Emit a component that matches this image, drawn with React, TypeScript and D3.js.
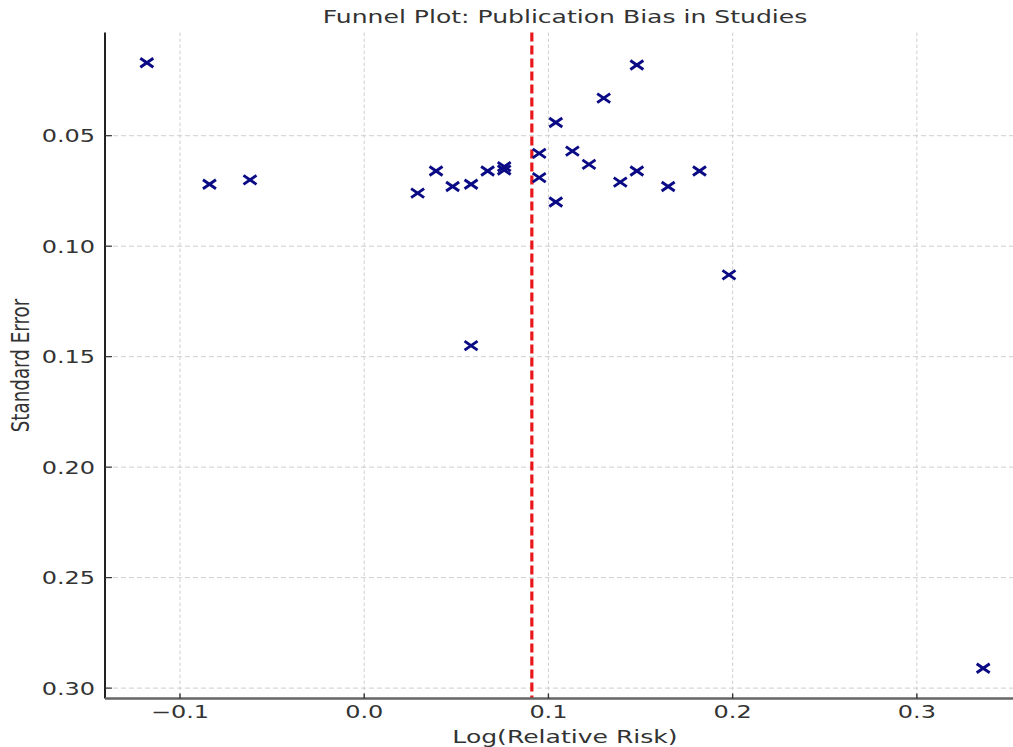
import React from "react";
import * as d3 from "d3";

// study estimates
const logRR = [
  -0.118, -0.084, -0.062, 0.029, 0.039, 0.048, 0.058, 0.067, 0.076, 0.076,
  0.095, 0.095, 0.104, 0.104, 0.113, 0.122, 0.13, 0.139, 0.148, 0.148, 0.165,
  0.182, 0.198, 0.058, 0.336,
];
const stdErr = [
  0.017, 0.072, 0.07, 0.076, 0.066, 0.073, 0.072, 0.066, 0.064, 0.0655, 0.058,
  0.069, 0.044, 0.08, 0.057, 0.063, 0.033, 0.071, 0.018, 0.066, 0.073, 0.066,
  0.113, 0.145, 0.291,
];
const pooledEffect = 0.091;
const xTicks = [-0.1, 0.0, 0.1, 0.2, 0.3];
const yTicks = [0.05, 0.1, 0.15, 0.2, 0.25, 0.3];

const W = 1013;
const H = 747;
const SX = 1.37; // the figure is stretched sideways
const FONT = "DejaVu Sans";
const FS = 17.5;
const FS_LABEL = 18.3;

const pad = (ext: [number, number]) => {
  const m = (ext[1] - ext[0]) * 0.05;
  return [ext[0] - m, ext[1] + m];
};

const minus = (s: string) => s.replace("-", "\u2212");

const App = () => {
  const left = 105;
  const right = 1025;
  const top = 32.5;
  const bottom = 698.5;

  const x = d3
    .scaleLinear()
    .domain(pad(d3.extent(logRR) as [number, number]))
    .range([left, right]);
  const y = d3
    .scaleLinear()
    .domain(pad(d3.extent(stdErr) as [number, number]))
    .range([top, bottom]);

  const cx = (left + right) / 2;
  const cy = (top + bottom) / 2;
  const mx = 6.5;
  const my = 4.5;

  return (
    <svg
      width={W}
      height={H}
      style={{ position: "absolute", left: 0, top: 0, background: "#fff" }}
      fontFamily={FONT}
    >
      {/* grid */}
      {xTicks.map((t) => (
        <line
          key={"gx" + t}
          x1={x(t)}
          x2={x(t)}
          y1={top}
          y2={bottom}
          stroke="#cfcfcf"
          strokeWidth={1}
          strokeDasharray="3.5,2.5"
        />
      ))}
      {yTicks.map((t) => (
        <line
          key={"gy" + t}
          x1={left}
          x2={right}
          y1={y(t)}
          y2={y(t)}
          stroke="#cfcfcf"
          strokeWidth={1}
          strokeDasharray="5,3"
        />
      ))}

      {/* pooled effect */}
      <line
        x1={x(pooledEffect)}
        x2={x(pooledEffect)}
        y1={top}
        y2={bottom}
        stroke="#e8171b"
        strokeWidth={3.2}
        strokeDasharray="9,4"
      />

      {/* studies */}
      {logRR.map((v, i) => {
        const px = x(v);
        const py = y(stdErr[i]);
        return (
          <g key={"p" + i} stroke="#0a0a85" strokeWidth={2.9}>
            <line x1={px - mx} y1={py - my} x2={px + mx} y2={py + my} />
            <line x1={px - mx} y1={py + my} x2={px + mx} y2={py - my} />
          </g>
        );
      })}

      {/* spines */}
      <line x1={left} x2={left} y1={top} y2={bottom} stroke="#222" strokeWidth={2} />
      <line x1={left} x2={right} y1={bottom} y2={bottom} stroke="#666" strokeWidth={2.6} />

      {/* ticks, pointing inwards */}
      {xTicks.map((t) => (
        <g key={"tx" + t}>
          <line x1={x(t)} x2={x(t)} y1={bottom} y2={bottom - 5} stroke="#333" strokeWidth={1.4} />
          <text
            transform={`translate(${x(t)},${bottom + 19.5}) scale(${SX},1)`}
            textAnchor="middle"
            fontSize={FS}
            fill="#333"
          >
            {minus(d3.format(".1f")(t))}
          </text>
        </g>
      ))}
      {yTicks.map((t) => (
        <g key={"ty" + t}>
          <line x1={left} x2={left + 7} y1={y(t)} y2={y(t)} stroke="#333" strokeWidth={1.2} />
          <text
            transform={`translate(${left - 10},${y(t) + 6.5}) scale(${SX},1)`}
            textAnchor="end"
            fontSize={FS}
            fill="#333"
          >
            {d3.format(".2f")(t)}
          </text>
        </g>
      ))}

      {/* labels */}
      <text
        transform={`translate(${cx},23) scale(${SX},1)`}
        textAnchor="middle"
        fontSize={FS_LABEL}
        fill="#333"
      >
        Funnel Plot: Publication Bias in Studies
      </text>
      <text
        transform={`translate(${cx},743) scale(${SX},1)`}
        textAnchor="middle"
        fontSize={FS_LABEL}
        fill="#333"
      >
        Log(Relative Risk)
      </text>
      <text
        transform={`translate(28.5,${cy}) scale(${SX},1) rotate(-90)`}
        textAnchor="middle"
        fontSize={FS_LABEL}
        fill="#333"
      >
        Standard Error
      </text>
    </svg>
  );
};

export default App;
